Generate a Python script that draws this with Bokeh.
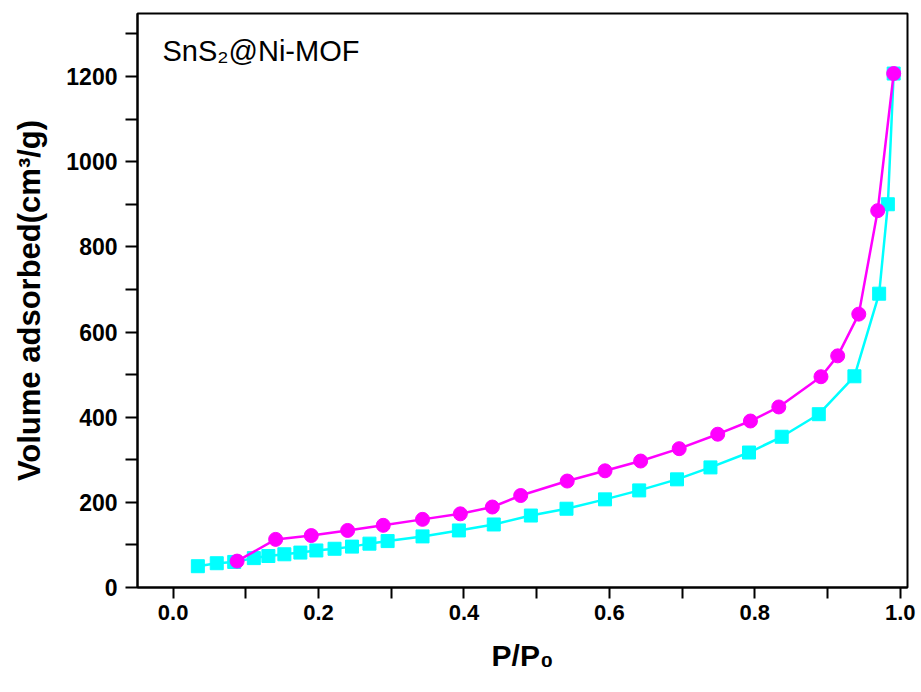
from bokeh.plotting import figure
from bokeh.models import Range1d, Label, FixedTicker
from bokeh.embed import file_html
from bokeh.resources import INLINE

# Adsorption branch (cyan squares)
ads_x = [0.034, 0.060, 0.084, 0.111, 0.131, 0.153, 0.175, 0.197, 0.222, 0.246,
         0.270, 0.295, 0.343, 0.393, 0.441, 0.492, 0.541, 0.594, 0.641, 0.693,
         0.739, 0.792, 0.837, 0.888, 0.937, 0.971, 0.983, 0.991]
ads_y = [50, 57, 60, 69, 74, 78, 82, 87, 91, 96,
         103, 109, 120, 134, 148, 169, 185, 207, 228, 254,
         282, 317, 354, 407, 496, 690, 900, 1207]

# Desorption branch (magenta circles)
des_x = [0.991, 0.969, 0.943, 0.914, 0.891, 0.833, 0.794, 0.749, 0.696, 0.643,
         0.594, 0.542, 0.478, 0.439, 0.395, 0.343, 0.289, 0.240, 0.190, 0.141, 0.088]
des_y = [1207, 885, 642, 544, 495, 424, 391, 360, 326, 297,
         274, 250, 216, 189, 173, 160, 146, 134, 122, 113, 62]

x_ticks = [0.0, 0.2, 0.4, 0.6, 0.8, 1.0]
x_minor = [0.1, 0.3, 0.5, 0.7, 0.9]
y_ticks = [0, 200, 400, 600, 800, 1000, 1200]
y_minor = [100, 300, 500, 700, 900, 1100, 1300]

FONT = "Liberation Sans"
CYAN = "#00FFFF"
MAGENTA = "#FF00FF"

p = figure(width=921, height=692, output_backend="svg", toolbar_location=None,
           x_range=Range1d(-0.049, 1.010), y_range=Range1d(0, 1348),
           min_border_left=137, min_border_right=14, min_border_top=13,
           min_border_bottom=105)

p.background_fill_color = "white"
p.border_fill_color = "white"
p.outline_line_color = "black"
p.outline_line_width = 2
p.xgrid.visible = False
p.ygrid.visible = False

# Lines and markers
p.line(ads_x, ads_y, line_color=CYAN, line_width=2.5)
p.scatter(ads_x, ads_y, marker="square", size=13, fill_color=CYAN, line_color=CYAN)
p.line(des_x, des_y, line_color=MAGENTA, line_width=2.5)
p.scatter(des_x, des_y, marker="circle", size=14, fill_color=MAGENTA, line_color=MAGENTA)

# Axes
p.xaxis.ticker = FixedTicker(ticks=x_ticks, minor_ticks=x_minor)
p.yaxis.ticker = FixedTicker(ticks=y_ticks, minor_ticks=y_minor)
p.xaxis.major_label_overrides = {t: f"{t:.1f}" for t in x_ticks}

for ax in (p.xaxis[0], p.yaxis[0]):
    ax.axis_line_width = 2
    ax.axis_line_color = "black"
    ax.major_tick_line_width = 2
    ax.minor_tick_line_width = 2
    ax.major_tick_line_color = "black"
    ax.minor_tick_line_color = "black"
    ax.major_tick_in = 0
    ax.minor_tick_in = 0
    ax.major_label_text_font = FONT
    ax.major_label_text_font_style = "bold"
    ax.major_label_text_color = "black"
    ax.axis_label_text_font = FONT
    ax.axis_label_text_font_style = "bold"
    ax.axis_label_text_color = "black"

p.xaxis.major_tick_out = 11
p.xaxis.minor_tick_out = 11
p.yaxis.major_tick_out = 12
p.yaxis.minor_tick_out = 12

p.xaxis.major_label_text_font_size = "22px"
p.yaxis.major_label_text_font_size = "23px"
p.xaxis.major_label_standoff = 6
p.yaxis.major_label_standoff = 8

p.xaxis.axis_label = "P/P\u2080"
p.xaxis.axis_label_text_font_size = "30px"
p.xaxis.axis_label_standoff = 16
p.yaxis.axis_label = "Volume adsorbed(cm\u00b3/g)"
p.yaxis.axis_label_text_font_size = "31px"
p.yaxis.axis_label_standoff = 16

# Sample label
p.add_layout(Label(x=-0.0147, y=1259, text="SnS\u2082@Ni-MOF", text_font=FONT,
                   text_font_size="29px", text_color="black",
                   text_baseline="alphabetic", text_align="left"))

open("out.html", "w").write(file_html(p, INLINE))
